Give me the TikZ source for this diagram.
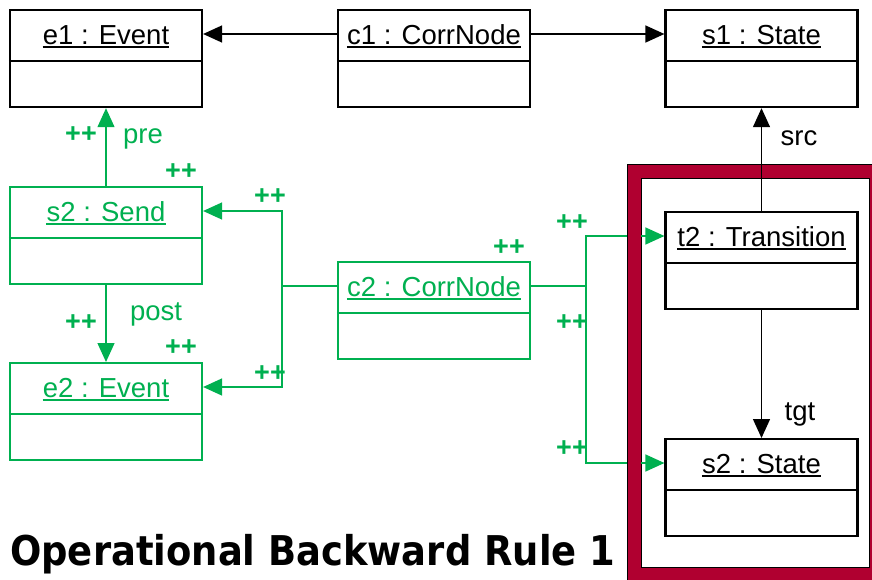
\documentclass[tikz,border=0pt]{standalone}
\usepackage{fontspec}
\setmainfont{Liberation Sans}
\newfontfamily\titlefont[FakeStretch=0.9]{DejaVu Sans Bold}
\usetikzlibrary{arrows.meta}
\definecolor{tggreen}{RGB}{0,176,80}
\definecolor{rulered}{RGB}{176,0,48}

\tikzset{
  objbox/.style={draw, line width=2.2pt, minimum width=192pt, minimum height=97pt,
                 inner sep=0pt, fill=white},
  objtext/.style={font=\fontsize{27.5}{30}\selectfont, inner sep=0pt},
  link/.style={line width=1.4pt},
  arrowlink/.style={link, -{Triangle[length=19pt,width=17pt]}},
  plus/.style={font=\fontsize{27}{30}\selectfont\bfseries, inner sep=0pt, text=tggreen},
  role/.style={font=\fontsize{27.5}{30}\selectfont, inner sep=0pt, anchor=base},
}

% object box: name, centre x, top y, label, colour
\newcommand\umlobj[5]{%
  \node[objbox,draw=#5,anchor=north] (#1) at (#2,#3) {};
  \draw[line width=2.2pt,draw=#5] ([yshift=-52pt]#1.north west) -- ([yshift=-52pt]#1.north east);
  \node[objtext,text=#5,anchor=base] (#1-name) at ([yshift=-35pt]#1.north) {#4};
  \draw[line width=1.6pt,draw=#5] ([yshift=-3.2pt]#1-name.base west) -- ([yshift=-3.2pt]#1-name.base east);
  \coordinate (#1-w) at ([yshift=-25pt]#1.north west);
  \coordinate (#1-e) at ([yshift=-25pt]#1.north east);
}

\begin{document}
\begin{tikzpicture}[x=1pt,y=-1pt]
\useasboundingbox (0,0) rectangle (872,579);

% objects outside the frame
\umlobj{e1}{106}{9}{e1 : Event}{black}
\umlobj{c1}{434}{9}{c1 : CorrNode}{black}
\umlobj{s1}{761.5}{9}{s1 : State}{black}
\umlobj{snd}{106}{186}{s2 : Send}{tggreen}
\umlobj{e2}{106}{362}{e2 : Event}{tggreen}
\umlobj{c2}{434}{261}{c2 : CorrNode}{tggreen}

% green correspondence links
\draw[arrowlink,tggreen] (snd.north) -- (e1.south);
\draw[arrowlink,tggreen] (snd.south) -- (e2.north);
\draw[arrowlink,tggreen] (c2-w) -- ++(-55,0) |- (snd-e);
\draw[arrowlink,tggreen] (c2-w) -- ++(-55,0) |- (e2-e);
\coordinate (fork) at ([xshift=55pt]c2-e);
\draw[link,tggreen] (c2-e) -- (fork);

% frame of the rule
\node[draw=black, line width=1pt, fill=rulered, minimum width=246pt, minimum height=416pt,
      inner sep=0pt, anchor=north west] (frame) at (627,164) {};
\node[draw=black, line width=1pt, fill=white, minimum width=228pt, minimum height=389pt,
      inner sep=0pt, anchor=north west] (inner) at (641,178) {};

\umlobj{t2}{761.5}{211}{t2 : Transition}{black}
\umlobj{s2s}{761.5}{438}{s2 : State}{black}

% green links into the frame
\draw[link,tggreen] (fork) |- (frame.west |- t2-w);
\draw[link,tggreen] (fork) |- (frame.west |- s2s-w);
\draw[arrowlink,tggreen] (inner.west |- t2-w) -- (t2-w);
\draw[arrowlink,tggreen] (inner.west |- s2s-w) -- (s2s-w);

% black links
\draw[arrowlink] (c1-w) -- (e1-e);
\draw[arrowlink] (c1-e) -- (s1-w);
\draw[arrowlink] (t2.north) -- (s1.south);
\draw[arrowlink] (t2.south) -- (s2s.north);

% role names
\node[role,tggreen] (pre) at (143,143) {pre};
\node[role,tggreen] (post) at (156,320) {post};
\node[role] (src) at (799,145) {src};
\node[role] (tgt) at (800,420) {tgt};

% creation markers
\node[plus] (p1) at (81,135) {++};
\node[plus] (p2) at (181,172) {++};
\node[plus] (p3) at (270,197) {++};
\node[plus] (p4) at (81,323) {++};
\node[plus] (p5) at (181,348) {++};
\node[plus] (p6) at (270,374) {++};
\node[plus] (p7) at (509,248) {++};
\node[plus] (p8) at (572,223) {++};
\node[plus] (p9) at (572,323) {++};
\node[plus] (p10) at (572,449) {++};

\node[font=\titlefont\fontsize{41}{45}\selectfont, inner sep=0pt, anchor=base west]
  (title) at (10,565) {Operational Backward Rule 1};
\end{tikzpicture}
\end{document}
